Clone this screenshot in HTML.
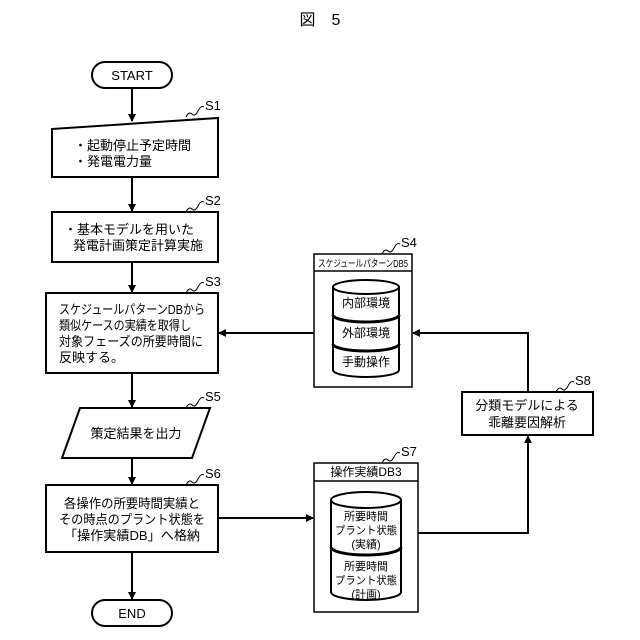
<!DOCTYPE html>
<html><head><meta charset="utf-8"><style>
body{margin:0;background:#fff}
svg{display:block}
text{font-family:"Liberation Sans","Noto Sans CJK JP",sans-serif;fill:#000}
</style></head><body>
<svg width="640" height="640" viewBox="0 0 640 640" xmlns="http://www.w3.org/2000/svg">
<defs><marker id="a" markerWidth="8" markerHeight="8" refX="7" refY="4" orient="auto" markerUnits="userSpaceOnUse"><path d="M0,0 L8,4 L0,8 z" fill="#000"/></marker></defs>
<text x="320" y="25" font-size="16" text-anchor="middle">図　5</text>
<g stroke="#000" stroke-width="2" fill="none">
<rect x="92" y="62" width="80" height="26" rx="13"/>
<path d="M52,129 L218,118 L218,177 L52,177 Z"/>
<rect x="52" y="212" width="166" height="50"/>
<rect x="46" y="293" width="172" height="80"/>
<path d="M80,408 L210,408 L192,458 L62,458 Z"/>
<rect x="46" y="485" width="172" height="67"/>
<rect x="92" y="600" width="80" height="26" rx="13"/>
<line x1="132" y1="88" x2="132" y2="121" marker-end="url(#a)"/>
<line x1="132" y1="177" x2="132" y2="211" marker-end="url(#a)"/>
<line x1="132" y1="262" x2="132" y2="292" marker-end="url(#a)"/>
<line x1="132" y1="373" x2="132" y2="407" marker-end="url(#a)"/>
<line x1="132" y1="458" x2="132" y2="484" marker-end="url(#a)"/>
<line x1="132" y1="552" x2="132" y2="599" marker-end="url(#a)"/>
<line x1="314" y1="333" x2="219" y2="333" marker-end="url(#a)"/>
<path d="M528,392 L528,333 L413,333" marker-end="url(#a)"/>
<line x1="218" y1="518" x2="313" y2="518" marker-end="url(#a)"/>
<path d="M418,533 L528,533 L528,436" marker-end="url(#a)"/>
<rect x="314" y="254" width="98" height="133" stroke-width="1.5"/>
<line x1="314" y1="271" x2="412" y2="271" stroke-width="1.5"/>
<rect x="462" y="392" width="131" height="43"/>
<rect x="314" y="463" width="104" height="149" stroke-width="1.5"/>
<line x1="314" y1="481" x2="418" y2="481" stroke-width="1.5"/>
<path d="M333,287 L333,370 A33,7 0 0 0 399,370 L399,287"/>
<ellipse cx="366" cy="287" rx="33" ry="7"/>
<path d="M333,315 A33,7 0 0 0 399,315" stroke-width="3"/>
<path d="M333,344 A33,7 0 0 0 399,344" stroke-width="3"/>
<path d="M331,500 L331,592 A35,8 0 0 0 401,592 L401,500"/>
<ellipse cx="366" cy="500" rx="35" ry="8"/>
<path d="M331,547 A35,8 0 0 0 401,547" stroke-width="3"/>
<path d="M186,117 q3,-6 6,-3 t6,-3 t6,-4" stroke-width="1"/>
<path d="M186,212 q3,-6 6,-3 t6,-3 t6,-4" stroke-width="1"/>
<path d="M186,293 q3,-6 6,-3 t6,-3 t6,-4" stroke-width="1"/>
<path d="M186,408 q3,-6 6,-3 t6,-3 t6,-4" stroke-width="1"/>
<path d="M186,485 q3,-6 6,-3 t6,-3 t6,-4" stroke-width="1"/>
<path d="M382,254 q3,-6 6,-3 t6,-3 t6,-4" stroke-width="1"/>
<path d="M382,463 q3,-6 6,-3 t6,-3 t6,-4" stroke-width="1"/>
<path d="M556,392 q3,-6 6,-3 t6,-3 t6,-4" stroke-width="1"/>
</g>
<g font-size="13">
<text x="132" y="80" text-anchor="middle">START</text>
<text x="132" y="618" text-anchor="middle">END</text>
<text x="205" y="110">S1</text>
<text x="205" y="205">S2</text>
<text x="205" y="286">S3</text>
<text x="205" y="401">S5</text>
<text x="205" y="478">S6</text>
<text x="401" y="247">S4</text>
<text x="401" y="456">S7</text>
<text x="575" y="385">S8</text>
<text x="74" y="150">・起動停止予定時間</text>
<text x="74" y="166">・発電電力量</text>
<text x="64" y="234">・基本モデルを用いた</text>
<text x="73" y="250">発電計画策定計算実施</text>
<text x="59" y="314" textLength="146" lengthAdjust="spacingAndGlyphs">スケジュールパターンDBから</text>
<text x="59" y="330" textLength="132" lengthAdjust="spacingAndGlyphs">類似ケースの実績を取得し</text>
<text x="59" y="346" textLength="144" lengthAdjust="spacingAndGlyphs">対象フェーズの所要時間に</text>
<text x="59" y="362">反映する。</text>
<text x="136" y="438" text-anchor="middle">策定結果を出力</text>
<text x="64" y="508" textLength="136" lengthAdjust="spacingAndGlyphs">各操作の所要時間実績と</text>
<text x="59" y="524" textLength="146" lengthAdjust="spacingAndGlyphs">その時点のプラント状態を</text>
<text x="64" y="540" textLength="136" lengthAdjust="spacingAndGlyphs">「操作実績DB」へ格納</text>
<text x="527" y="410" text-anchor="middle">分類モデルによる</text>
<text x="527" y="427" text-anchor="middle">乖離要因解析</text>
<text x="366" y="476" text-anchor="middle" font-size="12">操作実績DB3</text>
</g>
<g font-size="12" text-anchor="middle">
<text x="318" y="267" font-size="10" text-anchor="start" textLength="90" lengthAdjust="spacingAndGlyphs">スケジュールパターンDB5</text>
<text x="366" y="307">内部環境</text>
<text x="366" y="337">外部環境</text>
<text x="366" y="366">手動操作</text>
</g>
<g font-size="11" text-anchor="middle">
<text x="366" y="520">所要時間</text>
<text x="366" y="534" textLength="62" lengthAdjust="spacingAndGlyphs">プラント状態</text>
<text x="366" y="548">(実績)</text>
<text x="366" y="570">所要時間</text>
<text x="366" y="584" textLength="62" lengthAdjust="spacingAndGlyphs">プラント状態</text>
<text x="366" y="598">(計画)</text>
</g>
</svg>
</body></html>
